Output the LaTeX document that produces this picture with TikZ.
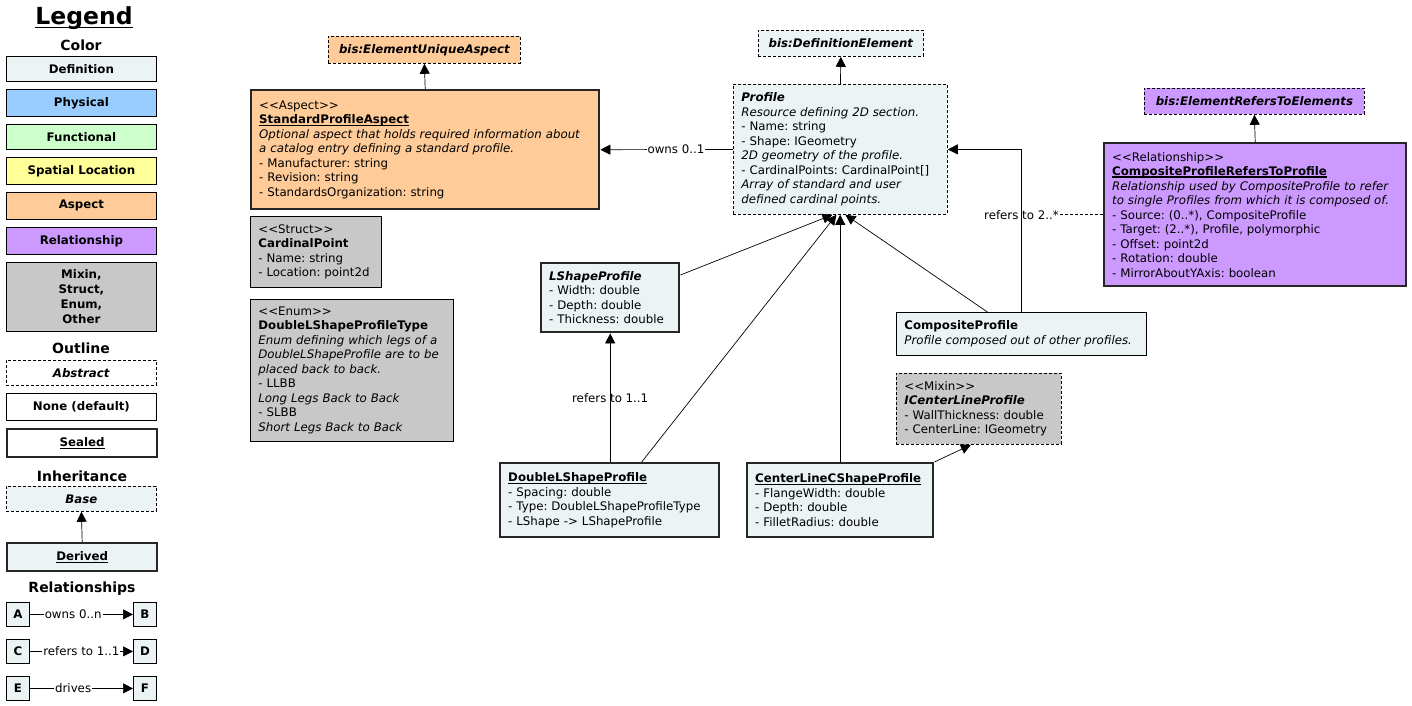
\documentclass[tikz,border=0pt]{standalone}
\usepackage{fontspec}
\setmainfont{DejaVu Sans}
\usetikzlibrary{arrows.meta}
\frenchspacing

\definecolor{defc}{RGB}{235,243,245}
\definecolor{phyc}{RGB}{153,204,255}
\definecolor{func}{RGB}{204,255,204}
\definecolor{spac}{RGB}{255,255,153}
\definecolor{aspc}{RGB}{255,204,153}
\definecolor{relc}{RGB}{204,153,255}
\definecolor{othc}{RGB}{200,200,200}

\newcommand{\boxfont}{\fontsize{11.8}{14.5}\selectfont}
\newcommand{\legfont}{\fontsize{11.8}{15}\selectfont\bfseries}
\newcommand{\headfont}{\fontsize{14}{16}\selectfont\bfseries}
\newcommand{\ulbox}[2][2pt]{\leavevmode\setbox0=\hbox{#2}\rlap{\rule[-#1]{\wd0}{1.1pt}}\box0}

\tikzset{
  cls/.style={draw, line width=0.8pt, anchor=north west, align=left, inner xsep=8pt, inner ysep=0pt, font=\boxfont},
  tag/.style={draw, line width=0.8pt, anchor=north west, align=center, inner sep=0pt, font=\boxfont\bfseries\itshape},
  legbox/.style={draw, line width=0.8pt, anchor=north west, align=center, inner sep=0pt, minimum width=150pt, font=\legfont},
  letbox/.style={draw, line width=0.8pt, fill=defc, anchor=north west, inner sep=0pt, minimum width=23pt, minimum height=24pt, font=\legfont},
  sealed/.style={line width=2.4pt, draw=black!85},
  abstract/.style={dash pattern=on 3pt off 2pt},
  inh/.style={-{Triangle[length=10pt,width=10pt]}, line width=0.7pt},
  lbl/.style={font=\boxfont, inner sep=1pt}
}

\begin{document}
\begin{tikzpicture}[x=1pt, y=-1pt]
\useasboundingbox[fill=white] (0,0) rectangle (1412,706);

% legend
\node[font=\fontsize{23.5}{26}\selectfont\bfseries] (legtitle) at (84,18) {\ulbox[3.5pt]{Legend}};
\node[font=\headfont] (legcolor) at (81,45) {Color};
\foreach \n/\y/\h/\c/\t in {def/56/25/defc/Definition, phy/89/27/phyc/Physical, fun/124/25/func/Functional,
  spa/157/27/spac/Spatial Location, asp/192/27/aspc/Aspect, rel/227/27/relc/Relationship}
  \node[legbox, fill=\c, minimum height=\h pt] (leg\n) at (6,\y) {\t};
\node[legbox, fill=othc, minimum height=69pt] (legoth) at (6,262) {Mixin,\\Struct,\\Enum,\\Other};

\node[font=\headfont] (legoutline) at (81,348) {Outline};
\node[legbox, abstract, minimum height=25pt] (legabs) at (6,360) {\textit{Abstract}};
\node[legbox, minimum height=27pt] (legnone) at (6,393) {None (default)};
\node[legbox, sealed, minimum height=28pt] (legsealed) at (6,428) {\ulbox{Sealed}};

\node[font=\headfont] (leginh) at (82,476) {Inheritance};
\node[legbox, abstract, fill=defc, minimum height=25pt] (legbase) at (6,486) {\textit{Base}};
\node[legbox, sealed, fill=defc, minimum height=28pt] (legderived) at (6,542) {\ulbox{Derived}};
\draw[inh] (legderived.north) -- (legbase.south);

\node[font=\headfont] (legrel) at (82,589) {Relationships};
\node[letbox] (lega) at (6,602) {A};
\node[letbox] (legb) at (133,602) {B};
\node[letbox] (legc) at (6,639) {C};
\node[letbox] (legd) at (133,639) {D};
\node[letbox] (lege) at (6,676) {E};
\node[letbox] (legf) at (133,676) {F};
\draw[inh] (lega) -- node[lbl, fill=white, pos=0.42] {owns 0..n} (legb);
\draw[inh] (legc) -- node[lbl, fill=white, pos=0.5] {refers to 1..1} (legd);
\draw[inh] (lege) -- node[lbl, fill=white, pos=0.42] {drives} (legf);

% aspect side
\node[tag, abstract, fill=aspc, minimum width=192pt, minimum height=27pt] (uniqasp) at (328,36) {bis:ElementUniqueAspect};
\node[cls, sealed, fill=aspc, minimum width=348pt, text width=332pt, minimum height=119pt] (stdasp) at (250,89)
  {<{}<Aspect>{}>\\ \textbf{\ulbox{StandardProfileAspect}}\\
   \textit{Optional aspect that holds required information about}\\
   \textit{a catalog entry defining a standard profile.}\\
   - Manufacturer: string\\ - Revision: string\\ - StandardsOrganization: string};
\node[cls, fill=othc, minimum width=131pt, text width=115pt, minimum height=71pt] (cardpt) at (250,216)
  {<{}<Struct>{}>\\ \textbf{CardinalPoint}\\ - Name: string\\ - Location: point2d};
\node[cls, fill=othc, minimum width=203pt, text width=187pt, minimum height=142pt] (dlstype) at (250,299)
  {<{}<Enum>{}>\\ \textbf{DoubleLShapeProfileType}\\
   \textit{Enum defining which legs of a}\\ \textit{DoubleLShapeProfile are to be}\\
   \textit{placed back to back.}\\ - LLBB\\ \textit{Long Legs Back to Back}\\
   - SLBB\\ \textit{Short Legs Back to Back}};

% profile
\node[tag, abstract, fill=defc, minimum width=165pt, minimum height=26pt] (defelem) at (758,30) {bis:DefinitionElement};
\node[cls, abstract, fill=defc, minimum width=214pt, text width=198pt, minimum height=130pt] (profile) at (733,84)
  {\textbf{\textit{Profile}}\\ \textit{Resource defining 2D section.}\\ - Name: string\\ - Shape: IGeometry\\
   \textit{2D geometry of the profile.}\\ - CardinalPoints: CardinalPoint[]\\
   \textit{Array of standard and user}\\ \textit{defined cardinal points.}};

% relationship
\node[tag, abstract, fill=relc, minimum width=220pt, minimum height=26pt] (refelems) at (1144,88) {bis:ElementRefersToElements};
\node[cls, sealed, fill=relc, minimum width=302pt, text width=286pt, minimum height=143pt] (cprel) at (1103,142)
  {<{}<Relationship>{}>\\ \textbf{\ulbox{CompositeProfileRefersToProfile}}\\
   \textit{Relationship used by CompositeProfile to refer}\\
   \textit{to single Profiles from which it is composed of.}\\
   - Source: (0..*), CompositeProfile\\ - Target: (2..*), Profile, polymorphic\\
   - Offset: point2d\\ - Rotation: double\\ - MirrorAboutYAxis: boolean};

% subclasses
\node[cls, sealed, fill=defc, minimum width=138pt, text width=122pt, minimum height=69pt] (lshape) at (540,262)
  {\textbf{\textit{LShapeProfile}}\\ - Width: double\\ - Depth: double\\ - Thickness: double};
\node[cls, fill=defc, minimum width=250pt, text width=234pt, minimum height=43pt] (composite) at (896,312)
  {\textbf{CompositeProfile}\\ \textit{Profile composed out of other profiles.}};
\node[cls, abstract, fill=othc, minimum width=165pt, text width=149pt, minimum height=71pt] (icenter) at (896,373)
  {<{}<Mixin>{}>\\ \textbf{\textit{ICenterLineProfile}}\\ - WallThickness: double\\ - CenterLine: IGeometry};
\node[cls, sealed, fill=defc, minimum width=219pt, text width=203pt, minimum height=74pt] (dblshape) at (499,462)
  {\textbf{\ulbox{DoubleLShapeProfile}}\\ - Spacing: double\\ - Type: DoubleLShapeProfileType\\ - LShape -> LShapeProfile};
\node[cls, sealed, fill=defc, minimum width=186pt, text width=170pt, minimum height=74pt] (clcshape) at (746,462)
  {\textbf{\ulbox{CenterLineCShapeProfile}}\\ - FlangeWidth: double\\ - Depth: double\\ - FilletRadius: double};

% connectors
\draw[inh] (stdasp.north) -- (uniqasp.south);
\draw[inh] (profile.north) -- (defelem.south);
\draw[inh] (cprel.north) -- (refelems.south);
\draw[inh] (profile.west) -- node[lbl, fill=white, pos=0.43] {owns 0..1} (stdasp.east);
\draw[inh] ([yshift=-13pt]lshape.north east) -- ([xshift=-8pt]profile.south);
\draw[inh] ([xshift=32pt]dblshape.north) -- ([xshift=-4pt]profile.south);
\draw[inh] (clcshape.north) -- (clcshape.north |- profile.south);
\draw[inh] ([xshift=-34pt]composite.north) -- ([xshift=5pt]profile.south);
\draw[inh] (composite.north) |- (profile.east);
\node[lbl] (refers2) at (composite.north |- cprel.west) {refers to 2..*};
\draw[dash pattern=on 3pt off 2pt, line width=0.7pt] (refers2) -- (cprel.west);
\draw[inh] (lshape.south |- dblshape.north) -- node[lbl] {refers to 1..1} (lshape.south);
\draw[inh] (clcshape.north east) -- ([xshift=-8pt]icenter.south);
\end{tikzpicture}
\end{document}
